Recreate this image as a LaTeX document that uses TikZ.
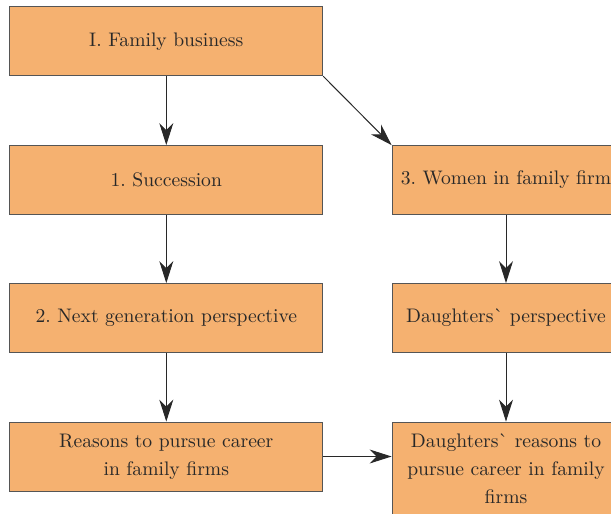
\documentclass[tikz,border=0pt]{standalone}
\usepackage{fontspec}
\setmainfont{lmroman10-regular.otf}
\usetikzlibrary{arrows.meta}
\definecolor{boxfill}{RGB}{245,177,112}
\definecolor{boxline}{RGB}{85,85,85}
\definecolor{inkline}{RGB}{40,40,40}
\frenchspacing
\tikzset{
  topic/.style={draw=boxline,fill=boxfill,line width=0.8pt,minimum height=69pt,inner sep=3pt,
    align=center,font=\fontsize{19.6}{28}\selectfont,text=inkline},
  widebox/.style={topic,minimum width=313pt,text width=300pt},
  narrowbox/.style={topic,minimum width=228pt,text width=222pt},
  link/.style={draw=inkline,line width=1pt,-{Stealth[length=22pt,width=14pt,inset=7pt]}}
}
\begin{document}
\begin{tikzpicture}[x=1pt,y=-1pt]
\useasboundingbox (0,0) rectangle (611,514);
\node[widebox] (fam) at (166.3,41.3) {I. Family business};
\node[widebox] (succ) at (166.3,180) {1. Succession};
\node[widebox] (nextgen) at (166.3,318) {2. Next generation perspective};
\node[widebox] (reasons) at (166.3,456.5) {Reasons to pursue career\\in family firms};
\node[narrowbox] (women) at (506,180) {3. Women in family firm};
\node[narrowbox] (daughters) at (506,318) {Daughters\textasciigrave{} perspective};
\node[narrowbox,minimum height=94pt] (dreasons) at (506,469)
  {Daughters\textasciigrave{} reasons to\\pursue career in family\\firms};
\draw[link] (fam) -- (succ);
\draw[link] (succ) -- (nextgen);
\draw[link] (nextgen) -- (reasons);
\draw[link] (fam.south east) -- (women.north west);
\draw[link] (women) -- (daughters);
\draw[link] (daughters) -- (dreasons);
\draw[link] (reasons.east) -- (dreasons.west |- reasons.east);
\end{tikzpicture}
\end{document}
